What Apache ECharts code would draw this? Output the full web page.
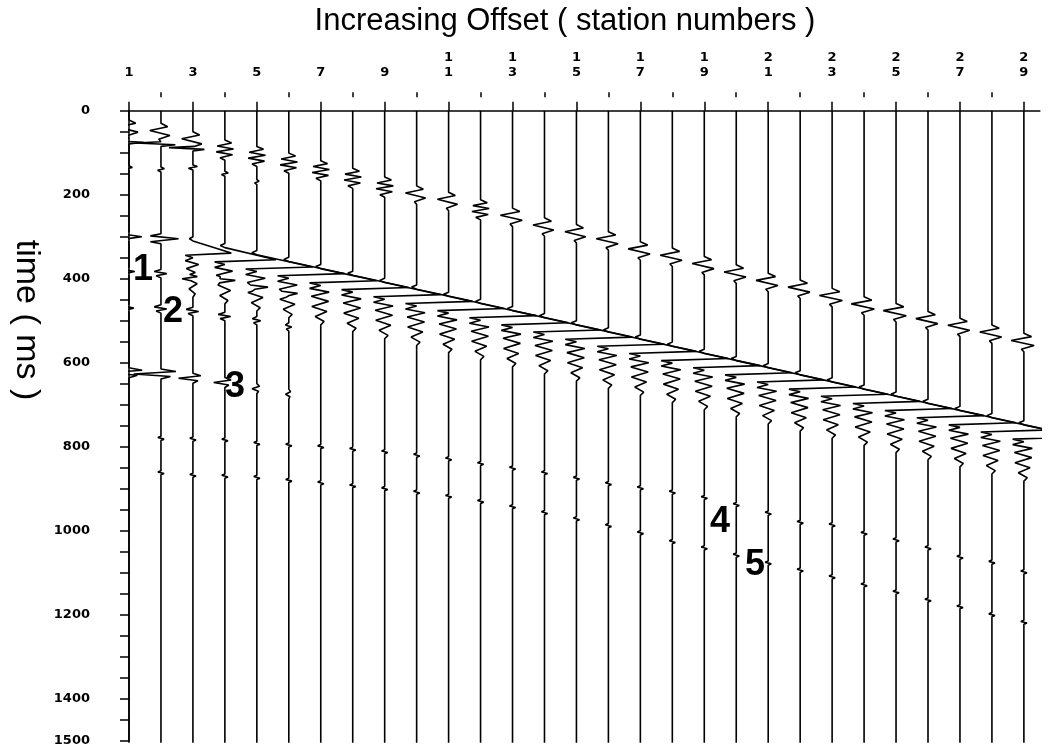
<!DOCTYPE html>
<html><head><meta charset="utf-8">
<script src="https://cdn.jsdelivr.net/npm/echarts@6/dist/echarts.min.js"></script>
<style>html,body{margin:0;padding:0;background:#fff}#c{width:1054px;height:750px}</style>
</head><body><div id="c"></div>
<script>
// ---------------- data ----------------
const stations = [1,2,3,4,5,6,7,8,9,10,11,12,13,14,15,16,17,18,19,20,21,22,23,24,25,26,27,28,29];
const majorStations = [1,3,5,7,9,11,13,15,17,19,21,23,25,27,29];
const minorStations = [2,4,6,8,10,12,14,16,18,20,22,24,26,28];
const labelledTimes = [0,200,400,600,800,1000,1200,1400,1500];

// direct wave (centre time ms, amplitude in station spacings, shape)
const directTimes = [42,50,70,94,109,125,143,161,182,199,214,236,252,275,291,308,332,347,367,387,407,423,443,463,479,498,514,530,550];
const directAmps  = [0.35,0.35,0.35,0.3,0.3,0.3,0.3,0.3,0.3,0.35,0.35,0.3,0.38,0.36,0.36,0.38,0.38,0.38,0.38,0.38,0.38,0.38,0.4,0.4,0.4,0.38,0.38,0.38,0.4];
const directShapes = ['s','s','s','z','z','z','z','z','z','s','s','z','s','s','s','s','s','s','s','s','s','s','s','s','s','s','s','s','s'];
// clipped first-break spikes on the nearest traces
const breakTimes = [71,77,88];
const breakAmps  = [1,1,0.85];
// small kinks after the first break
const kinkTimes = [137,140,135,150,170];
const kinkAmps  = [0.15,0.15,0.2,0.15,0.1];
// refraction on the nearest traces (short wiggle)
const refrNearTimes = [300,305];
const refrNearAmps  = [0.4,0.55];
// main clipped refraction with ringing
const refrTimes = [null,null,310,326,343,359,376,392,409,425,442,459,476,493,510,527,544,561,578,595,612,629,646,663,680,697,714,731,748];
const refrAmps  = [0,0,1.2,1.6,1.75,1.75,1.75,1.75,1.75,1.75,1.75,1.75,1.75,1.75,1.75,1.75,1.75,1.75,1.75,1.75,1.75,1.75,1.75,1.75,1.75,1.75,1.75,1.75,1.75];
// events 1 and 2 on near traces
const ev1Times = [383,388,395,405,420,435];
const ev1Amps  = [0.3,0.3,0.3,0.3,0.25,0.2];
const ev2Times = [470,472,478,490,500,515];
const ev2Amps  = [0.25,0.3,0.3,0.3,0.2,0.15];
// event 3 (~620 ms)
const ev3Times = [622,625,635,645,660,673];
const ev3Amps  = [0.75,0.85,0.45,0.35,0.15,0.1];
// events 4 and 5 (weak reflections)
const ev4Times = [null,780,782,784,792,796,800,806,812,820,829,840,851,862,875,888,898,908,921,938,958,980,986,1006,1022,1041,1063,1075,1098];
const ev4Amps  = [0,0.12,0.12,0.12,0.12,0.12,0.12,0.12,0.12,0.12,0.12,0.12,0.12,0.12,0.12,0.12,0.12,0.12,0.12,0.12,0.12,0.12,0.12,0.12,0.12,0.12,0.12,0.12,0.12];
const ev5Times = [null,862,868,870,873,880,886,893,900,908,918,930,943,957,972,988,1005,1026,1041,1058,1077,1094,1110,1129,1146,1165,1181,1200,1218];
const ev5Amps  = ev4Amps;
// annotation labels [station, time ms, text]
const noteStations = [1.44,2.38,4.32,19.49,20.59];
const noteTimes = [379,479,658,979,1082];
const noteTexts = ['1','2','3','4','5'];

// wavelet shapes: [relative time ms, relative amplitude]
const W_SIMPLE = [[-20,0],[-12,0.6],[-3,-1],[9,0.8],[18,-0.2],[24,0]];
const W_ZIGZAG = [[-24,0],[-17,0.7],[-10,-0.8],[-3,0.9],[4,-0.9],[11,0.8],[18,-0.5],[24,0]];
const W_BREAK  = [[-3,0],[0,-0.8],[4,0.45],[8,0]];
const W_KINK   = [[-6,0],[-2,0.7],[2,-0.7],[6,0]];
const W_QUICK  = [[-12,0],[-7,-0.6],[0,1],[7,-0.6],[12,0]];
const W_REFR   = [[-10,0],[-5,-0.09],[0,0],[29,1],[34,-0.2],[40,0],[47,-0.2],[56,0.15],[66,-0.17],[78,0.14],[90,-0.16],[102,0.11],[114,-0.1],[126,0.06],[134,0]];
const W_EV     = [[-10,0],[-5,-0.7],[0,0.6],[5,-0.5],[10,0]];
const W_EV3    = [[-10,0],[-4,0.55],[2,-1],[8,0.35],[14,0]];
const W_SMALL  = [[-5,0],[-2,-0.8],[2,0.8],[5,0]];

const events = [
  {times: directTimes, amps: directAmps, wave: k => directShapes[k] === 'z' ? W_ZIGZAG : W_SIMPLE},
  {times: breakTimes, amps: breakAmps, wave: () => W_BREAK},
  {times: kinkTimes, amps: kinkAmps, wave: () => W_KINK},
  {times: refrNearTimes, amps: refrNearAmps, wave: () => W_QUICK},
  {times: refrTimes, amps: refrAmps, wave: () => W_REFR},
  {times: ev1Times, amps: ev1Amps, wave: () => W_EV},
  {times: ev2Times, amps: ev2Amps, wave: () => W_EV},
  {times: ev3Times, amps: ev3Amps, wave: () => W_EV3},
  {times: ev4Times, amps: ev4Amps, wave: () => W_SMALL},
  {times: ev5Times, amps: ev5Amps, wave: () => W_SMALL}
];

function waveAt(w, dt) {
  if (dt <= w[0][0] || dt >= w[w.length - 1][0]) return 0;
  for (let i = 0; i < w.length - 1; i++) {
    if (dt <= w[i + 1][0]) {
      const f = (dt - w[i][0]) / (w[i + 1][0] - w[i][0]);
      return w[i][1] + f * (w[i + 1][1] - w[i][1]);
    }
  }
  return 0;
}

function buildTrace(k) {
  const evs = [];
  events.forEach(e => {
    const t0 = e.times[k], a = e.amps[k];
    if (t0 == null || !a) return;
    evs.push({t0, a, w: e.wave(k)});
  });
  const ts = new Set([0, 1505]);
  evs.forEach(ev => ev.w.forEach(p => ts.add(ev.t0 + p[0])));
  const sorted = Array.from(ts).sort((a, b) => a - b);
  return sorted.map(t => {
    let d = 0;
    evs.forEach(ev => { d += ev.a * waveAt(ev.w, t - ev.t0); });
    return [stations[k] - 1 + d, t];
  });
}

const series = stations.map((s, k) => ({
  type: 'line', data: buildTrace(k), showSymbol: false, symbol: 'none',
  clip: false, silent: true, animation: false,
  lineStyle: {color: '#000', width: 1.6}
}));
series.push({
  type: 'scatter', symbolSize: 1, silent: true, animation: false, clip: false,
  itemStyle: {color: 'rgba(0,0,0,0)', opacity: 1},
  data: noteStations.map((s, i) => [s - 1, noteTimes[i], noteTexts[i]]),
  label: {show: true, position: 'inside', formatter: p => p.data[2], opacity: 1,
    fontFamily: 'Liberation Sans, Arial', fontWeight: 'bold', fontSize: 36, color: '#000'},
  z: 5
});

const tickFont = {fontFamily: 'DejaVu Sans', fontWeight: 'bold', fontSize: 13, color: '#000'};
const xMax = 28.5;
const chart = echarts.init(document.getElementById('c'), null, {renderer: 'canvas'});
chart.setOption({
  animation: false,
  backgroundColor: '#fff',
  grid: {left: 129, right: 1054 - 129 - xMax * 31.96, top: 110.7, bottom: 9.3},
  xAxis: [{
    type: 'value', position: 'top', min: 0, max: xMax, offset: 13.4,
    axisLine: {show: true, lineStyle: {color: '#000', width: 1.5}},
    axisTick: {show: true, length: 9, customValues: majorStations.map(s => s - 1), lineStyle: {color: '#000', width: 1.5}},
    axisLabel: Object.assign({show: true, margin: 17, lineHeight: 15,
      customValues: majorStations.map(s => s - 1),
      formatter: v => String(Math.round(v) + 1).split('').join('\n')}, tickFont),
    splitLine: {show: false}
  }, {
    type: 'value', position: 'top', min: 0, max: xMax, offset: 13.4,
    axisLine: {show: false},
    axisTick: {show: true, length: 5, customValues: minorStations.map(s => s - 1), lineStyle: {color: '#000', width: 1.5}},
    axisLabel: {show: false},
    splitLine: {show: false}
  }],
  yAxis: {
    type: 'value', inverse: true, min: 0, max: 1500, interval: 50, position: 'left', offset: 24,
    axisLine: {show: true, lineStyle: {color: '#000', width: 1.5}},
    axisTick: {show: true, length: 9, lineStyle: {color: '#000', width: 1.5}},
    axisLabel: Object.assign({margin: 15,
      formatter: v => labelledTimes.indexOf(v) >= 0 ? String(v) : ''}, tickFont),
    splitLine: {show: false}
  },
  graphic: [
    {type: 'text', x: 565, y: 21, silent: true,
     style: {text: 'Increasing Offset ( station numbers )', font: '31px "Liberation Sans", Arial',
       fill: '#000', align: 'center', verticalAlign: 'middle'}},
    {type: 'text', x: 26, y: 320, rotation: -Math.PI / 2, silent: true,
     style: {text: 'time ( ms )', font: '34px "Liberation Sans", Arial',
       fill: '#000', align: 'center', verticalAlign: 'middle'}}
  ],
  series: series
});
</script></body></html>
